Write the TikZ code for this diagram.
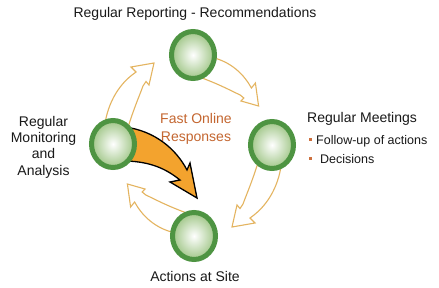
\documentclass[tikz,border=0pt]{standalone}
\usepackage{fontspec}
\setmainfont{Liberation Sans}
\usetikzlibrary{shapes.geometric}
\definecolor{ringgreen}{RGB}{78,148,66}
\definecolor{innergreen}{RGB}{160,198,135}
\definecolor{arrowtan}{RGB}{228,180,96}
\definecolor{orangefill}{RGB}{243,163,46}
\definecolor{txtorange}{RGB}{196,102,48}
\definecolor{bulletorange}{RGB}{205,112,62}
\definecolor{txtdark}{RGB}{25,25,25}
\tikzset{
  stage/.style={ellipse, draw=ringgreen, line width=5pt, minimum width=43pt,
    minimum height=47pt, inner sep=0pt, shade, inner color=white, outer color=innergreen},
  lbl/.style={font=\fontsize{14}{16.3}\selectfont, text=txtdark, inner sep=0pt},
  sublbl/.style={font=\fontsize{12.5}{14}\selectfont, text=txtdark, inner sep=0pt},
  bulletbox/.style={rectangle, fill=bulletorange, minimum size=3pt, inner sep=0pt},
  hollow/.style={draw=arrowtan, fill=white, line width=1.1pt, line join=miter},
  pics/cyclearrow/.style={code={
    \path[hollow] (-89,-13) .. controls (-87,-40) and (-75,-59) .. (-61,-70)
      -- (-57,-73) -- (-62,-78) -- (-39,-82) -- (-44,-60) -- (-47,-63.5) -- (-50,-59)
      .. controls (-54,-48) and (-60,-35) .. (-68,-8) -- cycle;
  }}
}
\begin{document}
\begin{tikzpicture}[x=1pt,y=-1pt]
\useasboundingbox[fill=white] (0,0) rectangle (439,287);
\coordinate (ctr) at (193,145);
% hollow cycle arrows
\pic at (ctr) {cyclearrow};
\pic[xscale=0.8, rotate=-90] at (ctr) {cyclearrow};
\pic[rotate=180] at (ctr) {cyclearrow};
\pic[xscale=0.8, rotate=90] at (ctr) {cyclearrow};
% big orange arrow
\path[draw=black, fill=orangefill, line width=1.3pt, line join=miter]
  (125,127) .. controls (155,131) and (176,149) .. (187,170) -- (190,163)
  -- (197,198) -- (170,182) -- (180,180)
  .. controls (165,168) and (150,162) .. (127,161) -- cycle;
% stage circles
\node[stage] (top) at (193,55) {};
\node[stage] (right) at (272,145) {};
\node[stage] (bottom) at (194,236) {};
\node[stage] (left) at (113,144) {};
% texts
\node[lbl, anchor=base] (ttop) at (195,17) {Regular Reporting - Recommendations};
\node[lbl, anchor=base, align=center] (tleft) at (43.5,175) {Regular\\Monitoring\\and\\Analysis};
\node[lbl, anchor=base, align=center, text=txtorange, font=\fontsize{14}{18}\selectfont] (tfast) at (196,141) {Fast Online\\Responses};
\node[lbl, anchor=base west] (tright) at (307,122) {Regular Meetings};
\node[bulletbox] (b1) at (310.5,139.5) {};
\node[sublbl, anchor=base west] (f1) at (316,144) {Follow-up of actions};
\node[bulletbox] (b2) at (310.5,158.5) {};
\node[sublbl, anchor=base west] (f2) at (320,163) {Decisions};
\node[lbl, anchor=base] (tbottom) at (195,281) {Actions at Site};
\end{tikzpicture}
\end{document}
